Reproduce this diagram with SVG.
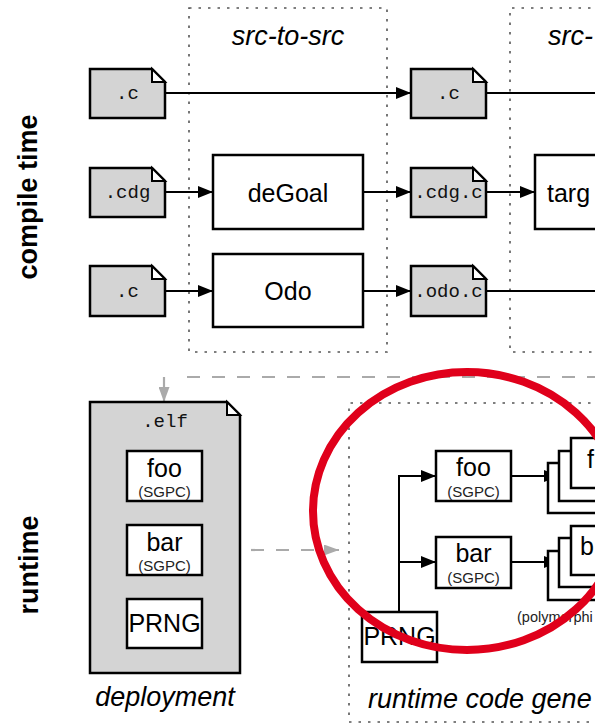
<svg xmlns="http://www.w3.org/2000/svg" width="595" height="725" viewBox="0 0 595 725">
<style>
.bg{fill:#ffffff}
.file{fill:#d4d4d4;stroke:#000;stroke-width:2.5;stroke-linejoin:miter}
.fold{fill:#ffffff;stroke:#000;stroke-width:2}
.box{fill:#ffffff;stroke:#000;stroke-width:2.5}
.group{fill:none;stroke:#555;stroke-width:1.6;stroke-dasharray:2.5 7}
.edge{fill:none;stroke:#000;stroke-width:2}
.gedge{fill:none;stroke:#aaaaaa;stroke-width:2.2;stroke-dasharray:13 12}
.mono{font-family:"Liberation Mono","DejaVu Sans Mono",monospace;font-size:19px;fill:#111;text-anchor:middle}
.lbl{font-family:"Liberation Sans","DejaVu Sans",sans-serif;font-size:25px;fill:#000;text-anchor:middle}
.lbl.left{text-anchor:start}
.sub{font-family:"Liberation Sans","DejaVu Sans",sans-serif;font-size:15px;fill:#222;text-anchor:middle}
.sec{font-family:"Liberation Sans","DejaVu Sans",sans-serif;font-size:27px;font-style:italic;fill:#000;text-anchor:start}
.sec.mid{text-anchor:middle}
.side{font-family:"Liberation Sans","DejaVu Sans",sans-serif;font-size:27px;font-weight:bold;fill:#000;text-anchor:middle}
.note{font-family:"Liberation Sans","DejaVu Sans",sans-serif;font-size:14.5px;fill:#222;text-anchor:start}
</style>
<defs>
<marker id="ah" markerUnits="userSpaceOnUse" markerWidth="15" markerHeight="12" refX="15" refY="6" orient="auto">
<path d="M0,0 L15,6 L0,12 Z" fill="#000"/>
</marker>
<marker id="gah" markerUnits="userSpaceOnUse" markerWidth="15" markerHeight="11" refX="15" refY="5.5" orient="auto">
<path d="M0,0 L15,5.5 L0,11 Z" fill="#aaaaaa"/>
</marker>
</defs>
<rect class="bg" x="0" y="0" width="595" height="725"/>

<g id="side-labels">
<text class="side" transform="translate(37,197) rotate(-90)">compile time</text>
<text class="side" transform="translate(38,565) rotate(-90)">runtime</text>
</g>

<g id="groups">
<g id="src-to-src">
<rect class="group" x="189" y="8" width="198" height="344"/>
<text class="sec mid" x="288" y="45">src-to-src</text>
</g>
<g id="src-to-target">
<path class="group" d="M600,8 H510 V352 H600"/>
<text class="sec" x="548" y="45">src-</text>
</g>
<g id="runtime-codegen">
<path class="group" d="M600,403 H349 V722 H600"/>
<text class="sec" x="368" y="708">runtime code gene</text>
</g>
<g id="deployment">
<text class="sec mid" x="165" y="706">deployment</text>
</g>
</g>

<g id="connectors">
<line class="edge" x1="165" y1="93" x2="411" y2="93" marker-end="url(#ah)"/>
<line class="edge" x1="486" y1="93" x2="600" y2="93"/>
<line class="edge" x1="165" y1="192" x2="213" y2="192" marker-end="url(#ah)"/>
<line class="edge" x1="363" y1="192" x2="411" y2="192" marker-end="url(#ah)"/>
<line class="edge" x1="486" y1="192" x2="535" y2="192" marker-end="url(#ah)"/>
<line class="edge" x1="165" y1="291" x2="213" y2="291" marker-end="url(#ah)"/>
<line class="edge" x1="363" y1="291" x2="411" y2="291" marker-end="url(#ah)"/>
<line class="edge" x1="486" y1="291" x2="600" y2="291"/>
<path class="gedge" d="M600,377 H176"/>
<path fill="none" stroke="#aaaaaa" stroke-width="2.2" d="M164,377 V402" marker-end="url(#gah)"/>
<line class="gedge" x1="251" y1="550" x2="339" y2="550" marker-end="url(#gah)"/>
<path class="edge" d="M399,612 V476 H436" marker-end="url(#ah)"/>
<line class="edge" x1="399" y1="562" x2="436" y2="562" marker-end="url(#ah)"/>
<line class="edge" x1="511" y1="476" x2="559" y2="476" marker-end="url(#ah)"/>
<line class="edge" x1="511" y1="562" x2="559" y2="562" marker-end="url(#ah)"/>
</g>

<g id="file-c1">
<path class="file" d="M90,69 H152 L165,82 V118 H90 Z"/>
<path class="fold" d="M152,69 V82 H165 Z"/>
<text class="mono" x="127.5" y="99">.c</text>
</g>
<g id="file-cdg">
<path class="file" d="M90,168 H152 L165,181 V217 H90 Z"/>
<path class="fold" d="M152,168 V181 H165 Z"/>
<text class="mono" x="127.5" y="198">.cdg</text>
</g>
<g id="file-c2">
<path class="file" d="M90,266 H152 L165,279 V316 H90 Z"/>
<path class="fold" d="M152,266 V279 H165 Z"/>
<text class="mono" x="127.5" y="297">.c</text>
</g>

<g id="deGoal">
<rect class="box" x="213" y="155" width="150" height="74"/>
<text class="lbl" x="288" y="202">deGoal</text>
</g>
<g id="Odo">
<rect class="box" x="213" y="254" width="150" height="73"/>
<text class="lbl" x="288" y="300">Odo</text>
</g>

<g id="file-c3">
<path class="file" d="M411,69 H473 L486,82 V118 H411 Z"/>
<path class="fold" d="M473,69 V82 H486 Z"/>
<text class="mono" x="448.5" y="99">.c</text>
</g>
<g id="file-cdgc">
<path class="file" d="M411,168 H473 L486,181 V217 H411 Z"/>
<path class="fold" d="M473,168 V181 H486 Z"/>
<text class="mono" x="448.5" y="198">.cdg.c</text>
</g>
<g id="file-odoc">
<path class="file" d="M411,266 H473 L486,279 V316 H411 Z"/>
<path class="fold" d="M473,266 V279 H486 Z"/>
<text class="mono" x="448.5" y="297">.odo.c</text>
</g>

<g id="target">
<rect class="box" x="535" y="155" width="80" height="74"/>
<text class="lbl left" x="547" y="202">targ</text>
</g>

<g id="elf">
<path class="file" d="M90,402 H227 L240,415 V673 H90 Z"/>
<path class="fold" d="M227,402 V415 H240 Z"/>
<text class="mono" x="165" y="427">.elf</text>
<g id="elf-foo">
<rect class="box" x="127" y="451" width="75" height="50"/>
<text class="lbl" x="164.5" y="477">foo</text>
<text class="sub" x="164.5" y="497">(SGPC)</text>
</g>
<g id="elf-bar">
<rect class="box" x="127" y="525" width="75" height="50"/>
<text class="lbl" x="164.5" y="551">bar</text>
<text class="sub" x="164.5" y="571">(SGPC)</text>
</g>
<g id="elf-prng">
<rect class="box" x="127" y="599" width="75" height="49"/>
<text class="lbl" x="164.5" y="632">PRNG</text>
</g>
</g>

<g id="rt-foo">
<rect class="box" x="436" y="451" width="75" height="50"/>
<text class="lbl" x="473.5" y="476">foo</text>
<text class="sub" x="473.5" y="497">(SGPC)</text>
</g>
<g id="rt-bar">
<rect class="box" x="436" y="537" width="75" height="51"/>
<text class="lbl" x="473.5" y="562">bar</text>
<text class="sub" x="473.5" y="583">(SGPC)</text>
</g>
<g id="rt-prng">
<rect class="box" x="362" y="612" width="75" height="50"/>
<text class="lbl" x="399.5" y="645">PRNG</text>
</g>

<g id="foo-variants">
<rect class="box" x="548" y="463" width="80" height="50"/>
<rect class="box" x="559" y="451" width="80" height="50"/>
<rect class="box" x="571" y="438" width="80" height="50"/>
<text class="lbl left" x="587" y="468">f</text>
</g>
<g id="bar-variants">
<rect class="box" x="548" y="551" width="80" height="49"/>
<rect class="box" x="559" y="538" width="80" height="49"/>
<rect class="box" x="571" y="526" width="80" height="49"/>
<text class="lbl left" x="580" y="555">b</text>
<text class="note" x="517" y="622">(polymorphi</text>
</g>

<g id="highlight">
<ellipse cx="467" cy="511" rx="154" ry="139" fill="none" stroke="#e0001b" stroke-width="8"/>
</g>
</svg>
